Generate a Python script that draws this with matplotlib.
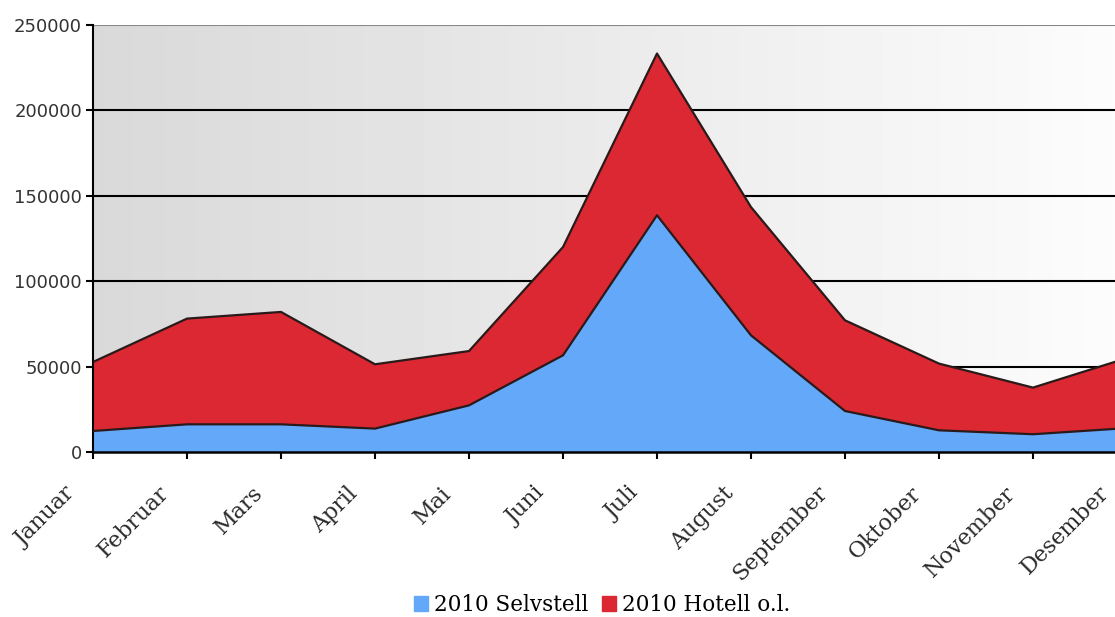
import numpy as np
import matplotlib
matplotlib.use("Agg")
import matplotlib.pyplot as plt
from matplotlib.patches import Patch

# Data (guests per month, 2010)
months = ['Januar', 'Februar', 'Mars', 'April', 'Mai', 'Juni', 'Juli',
          'August', 'September', 'Oktober', 'November', 'Desember']
selvstell = [12300, 16200, 16200, 13700, 27300, 56600, 138600,
             68300, 24000, 12700, 10400, 14000]
hotell = [40400, 61900, 65800, 37650, 31800, 63400, 94700,
          75100, 53100, 39050, 27300, 41000]
yticks = [0, 50000, 100000, 150000, 200000, 250000]

blue = '#64a8fa'
red = '#dc2832'

fig = plt.figure(figsize=(11.15, 6.17), dpi=100)
# axes runs a bit past the right edge, the Desember point is cut off in the original
ax = fig.add_axes([93 / 1115, 165 / 617, 1034 / 1115, 427 / 617])

x = np.arange(len(months))

# gray-to-white background
grad = np.linspace(0.85, 0.99, 256).reshape(1, -1)
ax.imshow(grad, cmap='gray', vmin=0, vmax=1, aspect='auto',
          extent=[0, 11, 0, 250000], zorder=0)

for yv in yticks[1:-1]:
    ax.axhline(yv, color='black', lw=1.5, zorder=1)
ax.axhline(250000, color='#888888', lw=1.5, zorder=1)

ax.stackplot(x, selvstell, hotell, colors=[blue, red], zorder=2)
top = np.array(selvstell) + np.array(hotell)
ax.plot(x, selvstell, color='#2a1a1a', lw=1.6, zorder=3)
ax.plot(x, top, color='#2a1a1a', lw=1.6, zorder=3)

ax.set_xlim(0, 11)
ax.set_ylim(0, 250000)
ax.set_yticks(yticks)
ax.set_yticklabels([str(v) for v in yticks], fontsize=13,
                   family='DejaVu Sans', color='#333333')
ax.set_xticks(x)
ax.set_xticklabels([])
# month labels placed a bit left of their ticks, like the original
for i, m in enumerate(months):
    ax.annotate(m, xy=(i, 0), xycoords=('data', 'axes fraction'),
                xytext=(-21, -38), textcoords='offset pixels',
                rotation=45, ha='right', va='center', rotation_mode='anchor',
                fontsize=16, family='DejaVu Serif', color='#2a2a2a',
                annotation_clip=False)

ax.tick_params(axis='x', length=5, width=1.5)
ax.tick_params(axis='y', length=5, width=1.5, pad=3)
for s in ['top', 'right']:
    ax.spines[s].set_visible(False)
ax.spines['left'].set_linewidth(1.5)
ax.spines['bottom'].set_linewidth(1.8)

handles = [Patch(color=blue, label='2010 Selvstell'),
           Patch(color=red, label='2010 Hotell o.l.')]
fig.legend(handles=handles, loc='center', bbox_to_anchor=(602 / 1115, 12 / 617),
           ncol=2, frameon=False, handlelength=0.65, handleheight=0.75,
           handletextpad=0.3, columnspacing=0.6,
           prop={'family': 'DejaVu Serif', 'size': 15.5})

fig.savefig('out.png', dpi=100)
